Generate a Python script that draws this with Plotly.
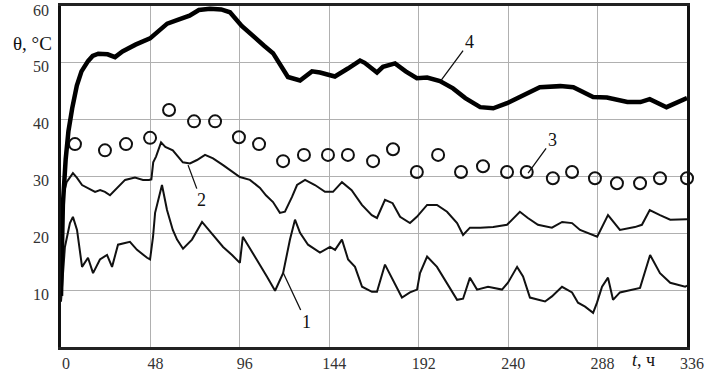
import plotly.graph_objects as go

# Curve 4 (thick)
t4 = [0, 1, 2.5, 4, 6, 8.5, 11, 14.5, 17, 20, 25, 29, 33, 40, 47.8, 52, 57, 63, 69, 74, 80, 86, 90.7,
      97, 104, 109, 113.8, 118, 121.8, 128.3, 134.7, 139, 147, 154, 160.5, 163, 169.6, 172.8, 179.3,
      185, 191, 196.5, 203.4, 210.4, 217, 225, 232, 239.4, 250, 257, 268, 275, 285.6, 293, 304, 311,
      316, 325, 336]
v4 = [9, 25, 33, 38, 42, 46, 48.5, 50.3, 51.2, 51.6, 51.5, 51, 52, 53.2, 54.3, 55.5, 56.9, 57.6, 58.3,
      59.3, 59.5, 59.4, 58.9, 56.5, 54.3, 53, 51.7, 49.5, 47.5, 46.9, 48.5, 48.3, 47.6, 49, 50.4, 50,
      48.3, 49.3, 49.9, 48.5, 47.3, 47.4, 46.8, 45.5, 43.8, 42.2, 42, 42.9, 44.6, 45.7, 45.9, 45.7, 44,
      43.9, 43.1, 43.1, 43.6, 42.2, 43.8]

# Curve 3 (circles)
t3 = [7.5, 23.6, 34.9, 47.8, 58, 71.4, 82.7, 95.5, 106.3, 119.2, 130.4, 143.3, 154, 167.5, 178.2,
      191, 202.4, 214.7, 226.5, 239.4, 250, 264, 274.3, 286.6, 298.4, 310.8, 321.5, 336]
v3 = [35.7, 34.6, 35.7, 36.8, 41.7, 39.7, 39.7, 36.9, 35.7, 32.7, 33.8, 33.8, 33.8, 32.7, 34.8,
      30.8, 33.8, 30.8, 31.8, 30.8, 30.8, 29.7, 30.8, 29.7, 28.8, 28.8, 29.7, 29.7]

# Curve 2
t2 = [0, 0.5, 1.5, 3, 6.4, 8.5, 11.3, 14.5, 18.3, 21, 23.6, 26.3, 30, 34.4, 39.7, 44, 47.2, 48.5,
      49.5, 51, 53.7, 56, 60, 62.5, 65.4, 69.2, 73, 77.3, 81.6, 87, 92.3, 96, 101.4, 106.8, 110, 113.8,
      117.5, 120.2, 124, 126.7, 131, 136.3, 141.7, 146, 150.8, 156, 161.5, 166.8, 169.6, 173.9, 178,
      182, 187.3, 191, 196.5, 201.8, 207.2, 212.6, 215.8, 219.5, 225, 232, 239.4, 246.3, 250.6, 256,
      263.5, 269, 274.3, 278.6, 287.8, 293.6, 300, 308, 311.8, 316, 321.5, 327, 336]
v2 = [8, 20, 27, 29, 30.6, 29.8, 28.5, 28, 27.3, 27.6, 27.3, 26.7, 28, 29.4, 29.8, 29.4, 29.4, 29.5,
      32.5, 33.5, 36, 35.2, 34.6, 33.6, 32.5, 32.3, 32.9, 33.8, 33.2, 32, 30.8, 29.9, 29.4, 28, 26.7,
      25.5, 23.6, 23.8, 26.4, 28.5, 29.4, 28.5, 27.3, 27.3, 29, 27.6, 25, 23.2, 22.7, 25.9, 25.3, 22.9,
      21.8, 22.9, 25, 25, 23.8, 21.8, 19.7, 21, 21, 21.1, 21.5, 23.8, 22.7, 21.5, 21, 22, 21.8, 20.6,
      19.4, 23.2, 20.6, 21.1, 21.5, 24.1, 23.2, 22.4, 22.5]

# Curve 1
t1 = [0, 2.1, 4.8, 6.4, 8.6, 11.3, 14.5, 17.2, 20.9, 24.7, 27.4, 30.6, 37, 40.8, 46.2, 47.8, 49.4,
      50.5, 54.2, 56.9, 60, 62.3, 65.5, 70.3, 75.7, 81.6, 87, 91.8, 96, 97.6, 100.3, 105, 110.5, 114.9,
      119.2, 122.9, 125.6, 128.3, 132.6, 139, 144.4, 147.1, 150.8, 154.1, 157.8, 161.6, 166.9, 169.6,
      173.9, 179.3, 183, 187.3, 191.1, 192.7, 196.5, 201.8, 207.2, 212.6, 215.8, 219.5, 223.3, 229.2,
      236.7, 239.9, 244.8, 248, 251.7, 259.8, 263.5, 268.9, 274.3, 277.5, 281.3, 285.6, 287.7, 290.4,
      293.6, 296.3, 300, 307, 310.8, 316.2, 321.5, 327, 335, 336]
v1 = [8, 17.6, 21.8, 22.9, 20.6, 14.1, 15.7, 13, 15.4, 16.2, 14.1, 18, 18.5, 17.1, 15.7, 15.4, 19.4,
      23.6, 28.5, 24.1, 20.6, 18.9, 17.3, 18.9, 22, 19.7, 17.6, 16.2, 14.8, 19.4, 18, 15.4, 12.4, 9.9,
      13, 18.9, 22.4, 20.1, 18, 16.6, 17.6, 17.1, 18.9, 15.4, 14.1, 10.6, 9.7, 9.7, 14.5, 11, 8.7, 9.6,
      10.1, 13, 15.9, 14.1, 11.3, 8.3, 8.5, 12.2, 10.1, 10.6, 10.1, 11.3, 14.1, 12.4, 8.7, 8, 8.9, 10.6,
      9.6, 7.8, 7.1, 6, 7.8, 10.6, 12.2, 8.3, 9.6, 10.1, 10.4, 16.2, 13, 11.3, 10.6, 10.8]

x_ticks = [0, 48, 96, 144, 192, 240, 288, 336]
y_ticks = [10, 20, 30, 40, 50, 60]

FONT = "Liberation Serif"

fig = go.Figure()
fig.add_trace(go.Scatter(x=t1, y=v1, mode="lines", line=dict(color="#111", width=2)))
fig.add_trace(go.Scatter(x=t2, y=v2, mode="lines", line=dict(color="#111", width=2)))
fig.add_trace(go.Scatter(x=t3, y=v3, mode="markers", cliponaxis=False,
                         marker=dict(symbol="circle-open", size=12, color="#111", line=dict(width=2))))
fig.add_trace(go.Scatter(x=t4, y=v4, mode="lines", line=dict(color="#000", width=4.5)))

def label(txt, x, y, ax, ay):
    fig.add_annotation(x=x, y=y, text=txt, showarrow=True, arrowhead=0, arrowwidth=1.3,
                       arrowcolor="#111", ax=ax, ay=ay, standoff=0,
                       font=dict(family=FONT, size=18, color="#111"))

label("4", 204, 46.9, 28, -38)
label("3", 250.7, 30.6, 24, -33)
label("2", 68.2, 32, 13, 35)
label("1", 119.2, 13.1, 23, 49)

fig.add_annotation(x=-0.045, y=0.889, xref="paper", yref="paper", text="θ, °C", showarrow=False,
                   xanchor="center", yanchor="middle",
                   font=dict(family=FONT, size=19, color="#111"))
fig.add_annotation(x=0.931, y=-0.037, xref="paper", yref="paper", text="<i>t</i>, ч", showarrow=False,
                   xanchor="center", yanchor="middle",
                   font=dict(family=FONT, size=18, color="#111"))

fig.update_layout(
    width=708, height=372,
    margin=dict(l=61, r=21, t=6, b=25, autoexpand=False),
    paper_bgcolor="white", plot_bgcolor="white",
    showlegend=False,
    xaxis=dict(range=[0, 336], tickvals=x_ticks, ticktext=[str(v) for v in x_ticks],
               automargin=False, ticklabeloverflow="allow",
               showgrid=True, gridcolor="#b0b0b0", gridwidth=1, zeroline=False,
               showline=True, linecolor="#222", linewidth=2.5, mirror=True,
               ticks="", ticklabelshift=5, ticklabelstandoff=0,
               tickfont=dict(family=FONT, size=16, color="#333")),
    yaxis=dict(range=[0, 60], tickvals=y_ticks, ticktext=[str(v) for v in y_ticks],
               automargin=False, ticklabeloverflow="allow",
               showgrid=True, gridcolor="#b0b0b0", gridwidth=1, zeroline=False,
               showline=True, linecolor="#111", linewidth=2.5, mirror=True,
               ticks="", ticklabelshift=4, ticklabelstandoff=6,
               tickfont=dict(family=FONT, size=16, color="#333")),
)

fig.write_html("out.html", config={"displayModeBar": False},
               post_script="document.body.style.margin='0';")
